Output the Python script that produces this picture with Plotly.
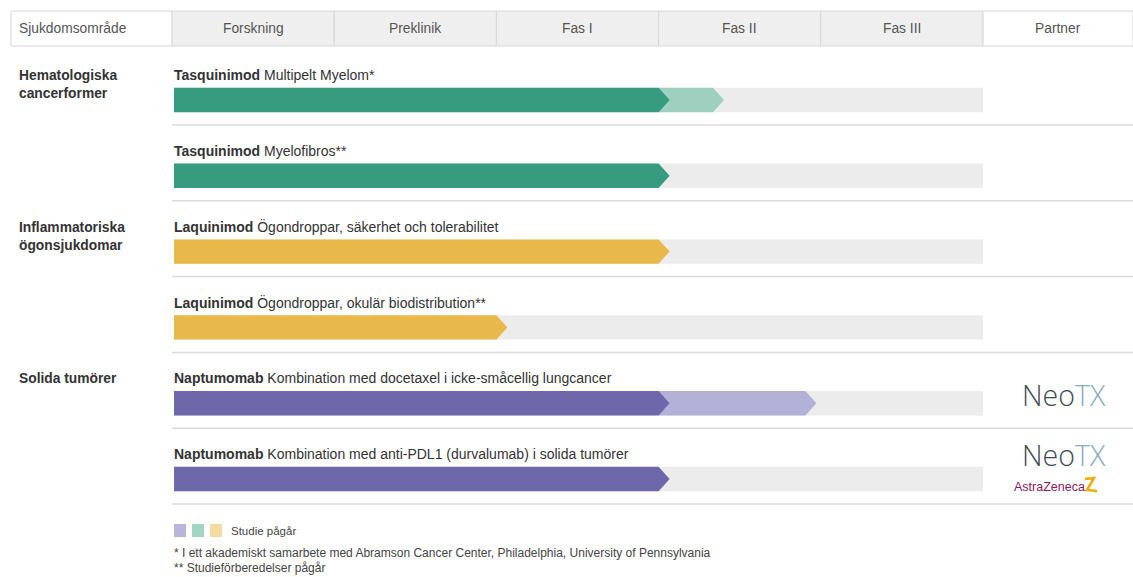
import plotly.graph_objects as go

# ---------------- data ----------------
phases = ["Forskning", "Preklinik", "Fas I", "Fas II", "Fas III"]
header_left = "Sjukdomsområde"
header_right = "Partner"

areas = ["Hematologiska<br>cancerformer", "Inflammatoriska<br>ögonsjukdomar", "Solida tumörer"]
area_first_row = [0, 2, 4]

drugs = ["Tasquinimod", "Tasquinimod", "Laquinimod", "Laquinimod", "Naptumomab", "Naptumomab"]
indications = [
    "Multipelt Myelom*",
    "Myelofibros**",
    "Ögondroppar, säkerhet och tolerabilitet",
    "Ögondroppar, okulär biodistribution**",
    "Kombination med docetaxel i icke-småcellig lungcancer",
    "Kombination med anti-PDL1 (durvalumab) i solida tumörer",
]
row_area = [0, 0, 1, 1, 2, 2]
completed = [3.0, 3.0, 3.0, 2.0, 3.0, 3.0]      # phases completed (dark)
ongoing = [3.335, 3.0, 3.0, 2.0, 3.905, 3.0]    # end of ongoing study (light)
partners = [[], [], [], [], ["NeoTX"], ["NeoTX", "AstraZeneca"]]

legend_text = "Studie pågår"
footnotes = [
    "* I ett akademiskt samarbete med Abramson Cancer Center, Philadelphia, University of Pennsylvania",
    "** Studieförberedelser pågår",
]

# ---------------- style ----------------
dark_colors = ["#379b7e", "#e8b84a", "#6e68aa"]
light_colors = ["#9fd0bf", "#f4dca0", "#b4b1d8"]
legend_colors = ["#b8b5dc", "#a3d5c4", "#f4dca0"]
track_color = "#ececec"
FONT = "Liberation Sans, Arial, sans-serif"
W, H = 1133, 577

# pixel <-> data helpers for layout positioning
U = 162.2      # px per phase
X0 = 172.0     # px of phase 0
R0 = 100.0     # px of first bar centre
RS = 75.8      # px per row


def xd(px):
    return (px - X0) / U


def yd(py):
    return (py - R0) / RS


bar_start = xd(174)
track_end = len(phases)
half = 12.2 / RS
tip = 11.0 / U

fig = go.Figure()
fig.add_trace(go.Scatter(x=[0], y=[0], mode="markers", marker=dict(opacity=0),
                         hoverinfo="skip", showlegend=False))

shapes = []
annots = []


def arrow_path(x0, x1, yc):
    return (f"M {x0},{yc-half} L {x1},{yc-half} L {x1+tip},{yc} "
            f"L {x1},{yc+half} L {x0},{yc+half} Z")


# header
bounds = [xd(11)] + list(range(len(phases) + 1)) + [xd(1133)]
labels = [header_left] + phases + [header_right]
for i, lab in enumerate(labels):
    fill = "white" if i in (0, len(labels) - 1) else "#efefef"
    shapes.append(dict(type="rect", xref="x", yref="y", x0=bounds[i], x1=bounds[i + 1],
                       y0=yd(11), y1=yd(46), fillcolor=fill,
                       line=dict(color="#d6d6d6", width=1), layer="below"))
    if i == 0:
        annots.append(dict(x=xd(17), y=yd(28.5), text=lab, xanchor="left", yanchor="middle",
                           showarrow=False, font=dict(size=13.8, color="#555555", family=FONT)))
    else:
        annots.append(dict(x=(bounds[i] + bounds[i + 1]) / 2, y=yd(28.5), text=lab,
                           xanchor="center", yanchor="middle", showarrow=False,
                           font=dict(size=13.8, color="#555555", family=FONT)))

# rows
for i in range(len(drugs)):
    a = row_area[i]
    # track
    shapes.append(dict(type="rect", xref="x", yref="y", x0=bar_start, x1=track_end,
                       y0=i - half, y1=i + half, fillcolor=track_color, line=dict(width=0)))
    # ongoing (light)
    if ongoing[i] > completed[i]:
        shapes.append(dict(type="path", xref="x", yref="y",
                           path=arrow_path(completed[i], ongoing[i], i),
                           fillcolor=light_colors[a], line=dict(width=0)))
    # completed (dark)
    shapes.append(dict(type="path", xref="x", yref="y",
                       path=arrow_path(bar_start, completed[i], i),
                       fillcolor=dark_colors[a], line=dict(width=0)))
    # separator
    shapes.append(dict(type="line", xref="x", yref="y", x0=0, x1=xd(1133),
                       y0=i + 25 / RS, y1=i + 25 / RS, line=dict(color="#dadada", width=1.5)))
    # title
    annots.append(dict(x=xd(172), y=i - 25 / RS, text=f"<b>{drugs[i]}</b> {indications[i]}",
                       xanchor="left", yanchor="middle", showarrow=False,
                       font=dict(size=14, color="#333333", family=FONT)))

# area labels
for k, lab in enumerate(areas):
    r = area_first_row[k]
    annots.append(dict(x=xd(17), y=r - 34 / RS, text=f"<b>{lab}</b>", xanchor="left",
                       yanchor="top", align="left", showarrow=False,
                       font=dict(size=13.8, color="#333333", family=FONT)))

# partners
neo = ("<span style='color:#3e4b52'>Neo</span>"
       "<span style='color:#86adbb'>TX</span>")
neo_font = dict(size=28.5, family="Open Sans, " + FONT, weight=300)
for i, plist in enumerate(partners):
    if not plist:
        continue
    if len(plist) == 1:
        annots.append(dict(x=xd(1064), y=i - 8 / RS, text=neo, showarrow=False, font=neo_font))
    else:
        annots.append(dict(x=xd(1064), y=i - 24 / RS, text=neo, showarrow=False, font=neo_font))
        annots.append(dict(x=xd(1049), y=i + 8 / RS, text="AstraZeneca", showarrow=False,
                           font=dict(size=12.5, color="#8a1a5e", family=FONT)))
        px_pts = [(1085, 479), (1094, 478), (1087, 490), (1097, 491)]
        path = "M " + " L ".join(f"{xd(px)},{yd(py)}" for px, py in px_pts)
        shapes.append(dict(type="path", xref="x", yref="y", path=path,
                           line=dict(color="#f0ab00", width=2.5)))

# legend squares
for k, c in enumerate(legend_colors):
    x0 = 174 + 18 * k
    shapes.append(dict(type="rect", xref="x", yref="y", x0=xd(x0), x1=xd(x0 + 12),
                       y0=yd(524), y1=yd(537), fillcolor=c, line=dict(width=0)))
annots.append(dict(x=xd(229), y=yd(530.5), text=legend_text, xanchor="left", showarrow=False,
                   font=dict(size=11.5, color="#444444", family=FONT)))
for k, t in enumerate(footnotes):
    annots.append(dict(x=xd(172), y=yd(553 + 15 * k), text=t, xanchor="left", showarrow=False,
                       font=dict(size=12, color="#444444", family=FONT)))

fig.update_layout(
    width=W, height=H, margin=dict(l=0, r=0, t=0, b=0),
    paper_bgcolor="white", plot_bgcolor="white",
    xaxis=dict(range=[xd(0), xd(W)], visible=False, fixedrange=True),
    yaxis=dict(range=[yd(H), yd(0)], visible=False, fixedrange=True),
    shapes=shapes, annotations=annots, showlegend=False,
)

fig.write_html("out.html", config={"displayModeBar": False},
               post_script="document.body.style.margin='0';"
                           "document.body.style.overflow='hidden';")
